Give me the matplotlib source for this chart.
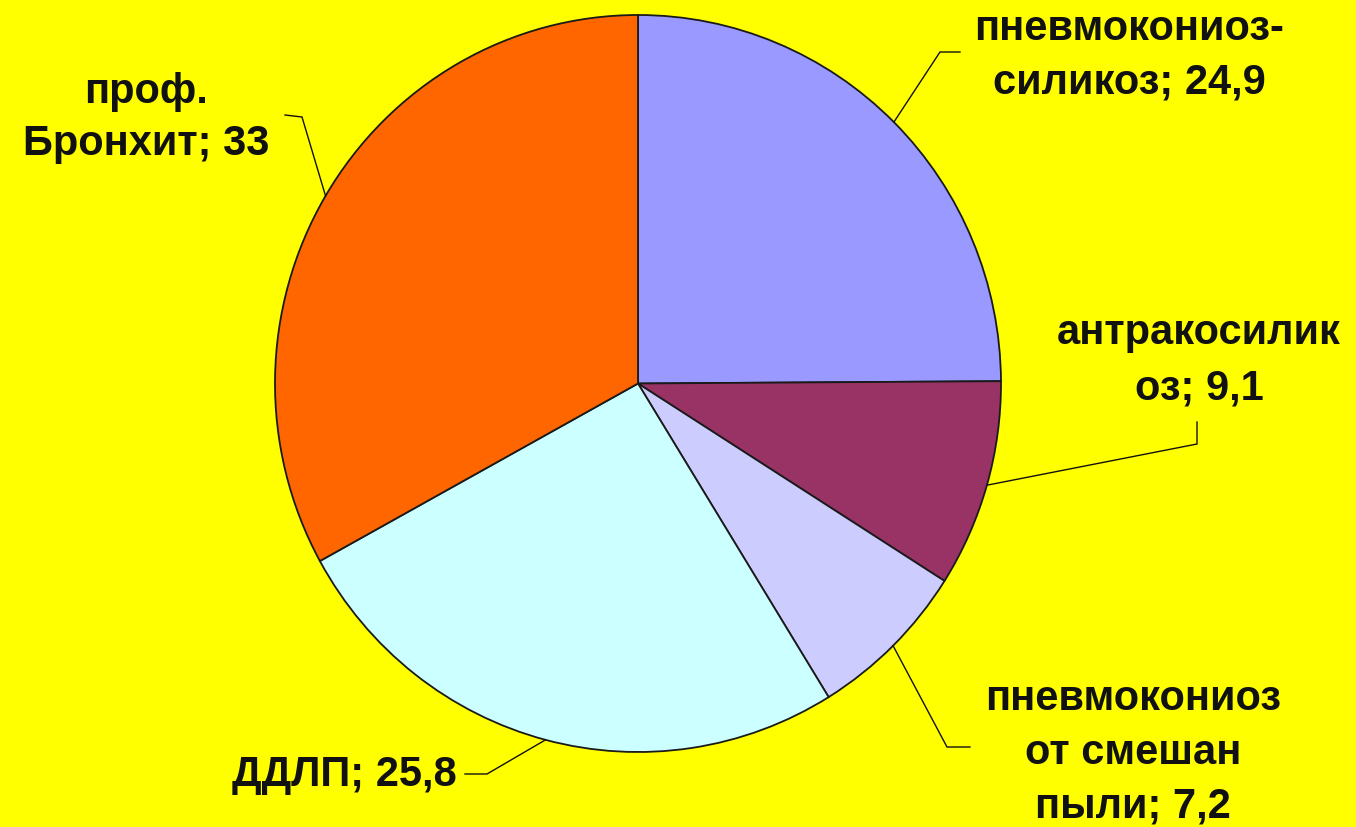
import numpy as np
import matplotlib
matplotlib.use("Agg")
import matplotlib.pyplot as plt

# ---- data ----
categories = ["пневмокониоз-\nсиликоз", "антракосилик\nоз", "пневмокониоз\nот смешан\nпыли",
              "ДДЛП", "проф.\nБронхит"]
values = [24.9, 9.1, 7.2, 25.8, 33.0]
value_labels = ["24,9", "9,1", "7,2", "25,8", "33"]
colors = ["#9999FF", "#993366", "#CCCCFF", "#CCFFFF", "#FF6600"]

W, H = 1356, 827
fig = plt.figure(figsize=(W / 100, H / 100), dpi=100)
fig.patch.set_facecolor("#FFFF00")
ax = fig.add_axes([0, 0, 1, 1])
ax.set_facecolor("#FFFF00")

# pixel -> data mapping (slight vertical stretch of the pie)
rx, ry = 363.0, 368.5
s = rx / ry
def px(x, y):
    return x, (H - y) * s

cx, cy = px(638, 383.5)
R = rx

wedges, _ = ax.pie(values, colors=colors, startangle=90, counterclock=False,
                   radius=R, center=(cx, cy),
                   wedgeprops=dict(edgecolor="#1a1a1a", linewidth=1.3))
ax.set_aspect("auto")
ax.set_xlim(0, W)
ax.set_ylim(0, H * s)
ax.axis("off")

# label layout (pixel positions): text center, leader path after edge point
layout = [
    dict(text=(1129, 56), ls=1.45, path=[(940, 52), (960, 52)]),
    dict(text=(1199, 361), ls=1.5, path=[(1197, 444), (1197, 422)]),
    dict(text=(1133, 753), ls=1.45, path=[(947, 747), (970, 747)]),
    dict(text=(344, 775), ls=1.5, path=[(487, 774), (465, 774)]),
    dict(text=(146, 118), ls=1.4, path=[(302, 117), (285, 115)]),
]

for w, cat, vl, lay in zip(wedges, categories, value_labels, layout):
    mid = np.deg2rad((w.theta1 + w.theta2) / 2)
    ex, ey = cx + R * np.cos(mid), cy + R * np.sin(mid)
    pts = [(ex, ey)] + [px(*p) for p in lay["path"]]
    xs, ys = zip(*pts)
    ax.plot(xs, ys, color="#111111", linewidth=1.0, solid_joinstyle="miter")
    tx, ty = px(*lay["text"])
    ax.text(tx, ty, f"{cat}; {vl}", ha="center", va="center",
            fontsize=30, fontweight="bold", family="Liberation Sans",
            color="#111111", linespacing=lay["ls"])

fig.savefig("out.png", dpi=100, facecolor=fig.get_facecolor())
